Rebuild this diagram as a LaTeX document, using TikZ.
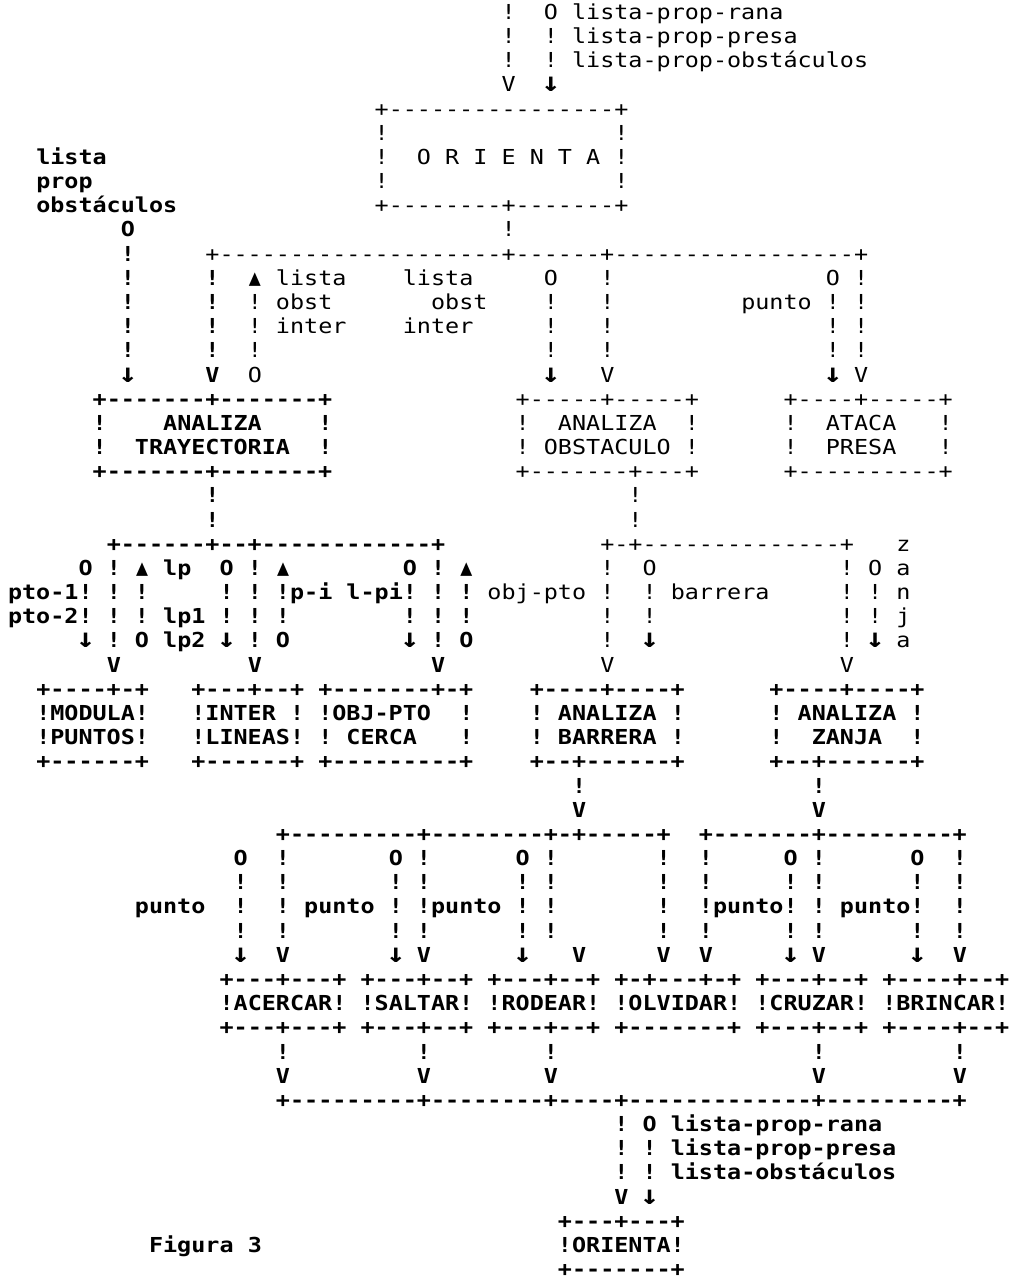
\documentclass[tikz,border=0pt]{standalone}
\usepackage{fontspec}
\usepackage{graphicx}
\setmonofont{DejaVu Sans Mono}
\tikzset{
  cell/.style={inner sep=0pt, outer sep=0pt, anchor=base west, text depth=0pt},
  thin/.style={cell, font={\ttfamily\frenchspacing\fontsize{23.42}{24}\selectfont}},
  heavy/.style={cell, font={\ttfamily\bfseries\frenchspacing\fontsize{23.42}{24}\selectfont}},
}
\newcommand\tk[4][thin]{\node[#1,name=r#2c#3] at ({14.1*(#3)-6.05},{-19.3-24.18*(#2)}) {\scalebox{1}[0.88]{#4}};}
\newcommand\cols[4][thin]{\foreach \cc in {#3}{\tk[#1]{#2}{\cc}{#4}}}
\newcommand\dn{\makebox[0.602em][c]{\bfseries\scalebox{1.35}[1.3]{↓}}}
\newcommand\up{\makebox[0.602em][c]{\scalebox{0.85}[1.1]{▲}}}
\begin{document}
\begin{tikzpicture}[x=1pt,y=1pt]
\fill[white] (0,0) rectangle (1010,-1284);
\useasboundingbox (0,0) rectangle (1010,-1284);
% top input
\tk{0}{36}{!}\tk{0}{39}{O}\tk{0}{41}{lista-prop-rana}
\tk{1}{36}{!}\tk{1}{39}{!}\tk{1}{41}{lista-prop-presa}
\tk{2}{36}{!}\tk{2}{39}{!}\tk{2}{41}{lista-prop-obstáculos}
\tk{3}{36}{V}\tk{3}{39}{\dn}
% ORIENTA box
\tk{4}{27}{+----------------+}
\cols{5}{27,44}{!}
\tk[heavy]{6}{3}{lista}\cols{6}{27,44}{!}
\tk{6}{30}{O}\tk{6}{32}{R}\tk{6}{34}{I}\tk{6}{36}{E}\tk{6}{38}{N}\tk{6}{40}{T}\tk{6}{42}{A}
\tk[heavy]{7}{3}{prop}\cols{7}{27,44}{!}
\tk[heavy]{8}{3}{obstáculos}\tk{8}{27}{+--------+-------+}
\tk[heavy]{9}{9}{O}\tk{9}{36}{!}
\tk[heavy]{10}{9}{!}\tk{10}{15}{+--------------------+------+-----------------+}
% level 1 connectors
\cols[heavy]{11}{9,15}{!}\tk{11}{18}{\up}\tk{11}{20}{lista}\tk{11}{29}{lista}\tk{11}{39}{O}\tk{11}{43}{!}\tk{11}{59}{O}\tk{11}{61}{!}
\cols[heavy]{12}{9,15}{!}\tk{12}{18}{!}\tk{12}{20}{obst}\tk{12}{31}{obst}\cols{12}{39,43,59,61}{!}\tk{12}{53}{punto}
\cols[heavy]{13}{9,15}{!}\tk{13}{18}{!}\tk{13}{20}{inter}\tk{13}{29}{inter}\cols{13}{39,43,59,61}{!}
\cols[heavy]{14}{9,15}{!}\cols{14}{18,39,43,59,61}{!}
\tk[heavy]{15}{9}{\dn}\tk[heavy]{15}{15}{V}\tk{15}{18}{O}\tk{15}{39}{\dn}\tk{15}{43}{V}\tk{15}{59}{\dn}\tk{15}{61}{V}
% level 1 boxes
\tk[heavy]{16}{7}{+-------+-------+}\tk{16}{37}{+-----+-----+}\tk{16}{56}{+----+-----+}
\cols[heavy]{17}{7,23}{!}\tk[heavy]{17}{12}{ANALIZA}\cols{17}{37,49,56,67}{!}\tk{17}{40}{ANALIZA}\tk{17}{59}{ATACA}
\cols[heavy]{18}{7,23}{!}\tk[heavy]{18}{10}{TRAYECTORIA}\cols{18}{37,49,56,67}{!}\tk{18}{39}{OBSTACULO}\tk{18}{59}{PRESA}
\tk[heavy]{19}{7}{+-------+-------+}\tk{19}{37}{+-------+---+}\tk{19}{56}{+----------+}
\tk[heavy]{20}{15}{!}\tk{20}{45}{!}
\tk[heavy]{21}{15}{!}\tk{21}{45}{!}
% level 2 connectors
\tk[heavy]{22}{8}{+------+--+------------+}\tk{22}{43}{+-+--------------+}\tk{22}{64}{z}
\tk[heavy]{23}{6}{O}\tk[heavy]{23}{8}{!}\tk[heavy]{23}{10}{\up}\tk[heavy]{23}{12}{lp}\tk[heavy]{23}{16}{O}\tk[heavy]{23}{18}{!}\tk[heavy]{23}{20}{\up}\tk[heavy]{23}{29}{O}\tk[heavy]{23}{31}{!}\tk[heavy]{23}{33}{\up}
\tk{23}{43}{!}\tk{23}{46}{O}\tk{23}{60}{!}\tk{23}{62}{O}\tk{23}{64}{a}
\tk[heavy]{24}{1}{pto-1!}\cols[heavy]{24}{8,10,16,18,31,33}{!}\tk[heavy]{24}{20}{!p-i}\tk[heavy]{24}{25}{l-pi!}
\tk{24}{35}{obj-pto}\cols{24}{43,46,60,62}{!}\tk{24}{48}{barrera}\tk{24}{64}{n}
\tk[heavy]{25}{1}{pto-2!}\cols[heavy]{25}{8,10,16,18,20,29,31,33}{!}\tk[heavy]{25}{12}{lp1}
\cols{25}{43,46,60,62}{!}\tk{25}{64}{j}
\tk[heavy]{26}{6}{\dn}\tk[heavy]{26}{8}{!}\tk[heavy]{26}{10}{O}\tk[heavy]{26}{12}{lp2}\tk[heavy]{26}{16}{\dn}\tk[heavy]{26}{18}{!}\tk[heavy]{26}{20}{O}\tk[heavy]{26}{29}{\dn}\tk[heavy]{26}{31}{!}\tk[heavy]{26}{33}{O}
\tk{26}{43}{!}\tk{26}{46}{\dn}\tk{26}{60}{!}\tk{26}{62}{\dn}\tk{26}{64}{a}
\cols[heavy]{27}{8,18,31}{V}\cols{27}{43,60}{V}
% level 2 boxes
\tk[heavy]{28}{3}{+----+-+}\tk[heavy]{28}{14}{+---+--+}\tk[heavy]{28}{23}{+-------+-+}\tk[heavy]{28}{38}{+----+----+}\tk[heavy]{28}{55}{+----+----+}
\tk[heavy]{29}{3}{!MODULA!}\tk[heavy]{29}{14}{!INTER}\tk[heavy]{29}{23}{!OBJ-PTO}\cols[heavy]{29}{21,33,38,48,55,65}{!}\tk[heavy]{29}{40}{ANALIZA}\tk[heavy]{29}{57}{ANALIZA}
\tk[heavy]{30}{3}{!PUNTOS!}\tk[heavy]{30}{14}{!LINEAS!}\cols[heavy]{30}{23,33,38,48,55,65}{!}\tk[heavy]{30}{25}{CERCA}\tk[heavy]{30}{40}{BARRERA}\tk[heavy]{30}{58}{ZANJA}
\tk[heavy]{31}{3}{+------+}\tk[heavy]{31}{14}{+------+}\tk[heavy]{31}{23}{+---------+}\tk[heavy]{31}{38}{+--+------+}\tk[heavy]{31}{55}{+--+------+}
\cols[heavy]{32}{41,58}{!}
\cols[heavy]{33}{41,58}{V}
% level 3 connectors
\tk[heavy]{34}{20}{+---------+--------+-+-----+}\tk[heavy]{34}{50}{+-------+---------+}
\cols[heavy]{35}{17,28,37,56,65}{O}\cols[heavy]{35}{20,30,39,47,50,58,68}{!}
\cols[heavy]{36}{17,20,28,30,37,39,47,50,56,58,65,68}{!}
\tk[heavy]{37}{10}{punto}\cols[heavy]{37}{17,20,28,37,39,47,68}{!}\tk[heavy]{37}{22}{punto}\tk[heavy]{37}{30}{!punto}\tk[heavy]{37}{50}{!punto!}\tk[heavy]{37}{58}{!}\tk[heavy]{37}{60}{punto!}
\cols[heavy]{38}{17,20,28,30,37,39,47,50,56,58,65,68}{!}
\cols[heavy]{39}{17,28,37,56,65}{\dn}\cols[heavy]{39}{20,30,41,47,50,58,68}{V}
% level 3 boxes
\tk[heavy]{40}{16}{+---+---+}\tk[heavy]{40}{26}{+---+--+}\tk[heavy]{40}{35}{+---+--+}\tk[heavy]{40}{44}{+-+---+-+}\tk[heavy]{40}{54}{+---+--+}\tk[heavy]{40}{63}{+----+--+}
\tk[heavy]{41}{16}{!ACERCAR!}\tk[heavy]{41}{26}{!SALTAR!}\tk[heavy]{41}{35}{!RODEAR!}\tk[heavy]{41}{44}{!OLVIDAR!}\tk[heavy]{41}{54}{!CRUZAR!}\tk[heavy]{41}{63}{!BRINCAR!}
\tk[heavy]{42}{16}{+---+---+}\tk[heavy]{42}{26}{+---+--+}\tk[heavy]{42}{35}{+---+--+}\tk[heavy]{42}{44}{+-------+}\tk[heavy]{42}{54}{+---+--+}\tk[heavy]{42}{63}{+----+--+}
\cols[heavy]{43}{20,30,39,58,68}{!}
\cols[heavy]{44}{20,30,39,58,68}{V}
\tk[heavy]{45}{20}{+---------+--------+----+-------------+---------+}
% output
\tk[heavy]{46}{44}{!}\tk[heavy]{46}{46}{O}\tk[heavy]{46}{48}{lista-prop-rana}
\tk[heavy]{47}{44}{!}\tk[heavy]{47}{46}{!}\tk[heavy]{47}{48}{lista-prop-presa}
\tk[heavy]{48}{44}{!}\tk[heavy]{48}{46}{!}\tk[heavy]{48}{48}{lista-obstáculos}
\tk[heavy]{49}{44}{V}\tk[heavy]{49}{46}{\dn}
\tk[heavy]{50}{40}{+---+---+}
\tk[heavy]{51}{40}{!ORIENTA!}\tk[heavy]{51}{11}{Figura}\tk[heavy]{51}{18}{3}
\tk[heavy]{52}{40}{+-------+}
\end{tikzpicture}
\end{document}
